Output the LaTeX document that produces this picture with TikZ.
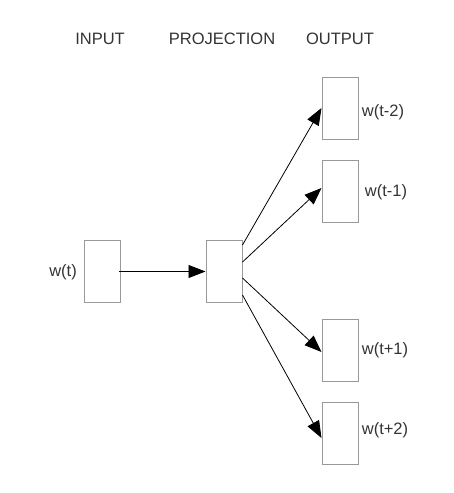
\documentclass[tikz,border=0pt]{standalone}
\usepackage{fontspec}
\setmainfont{Liberation Sans}
\usetikzlibrary{arrows.meta}
\definecolor{txt}{HTML}{333333}
\definecolor{boxc}{HTML}{999999}
\begin{document}
\begin{tikzpicture}[x=1pt,y=-1pt,
  unit/.style={draw=boxc,line width=1pt,fill=white,minimum width=36pt,minimum height=62pt,inner sep=0pt},
  lbl/.style={text=txt,font=\fontsize{16.5}{18}\selectfont,inner sep=0pt},
  conn/.style={black,line width=0.8pt,-{Triangle[length=17pt,width=13pt]}}]
\useasboundingbox (0,0) rectangle (453,493);
\node[lbl] (hin) at (100,39) {INPUT};
\node[lbl] (hpr) at (222,39) {PROJECTION};
\node[lbl] (hout) at (340,39) {OUTPUT};
\node[unit] (in) at (102.5,271.5) {};
\node[unit] (pr) at (224,271.5) {};
\node[unit] (o1) at (340,108) {};
\node[unit] (o2) at (340,191) {};
\node[unit] (o3) at (340,350) {};
\node[unit] (o4) at (340,433.5) {};
\node[lbl] (lin) at (63,272) {w(t)};
\node[lbl] (l1) at (383,112) {w(t-2)};
\node[lbl] (l2) at (386,192) {w(t-1)};
\node[lbl] (l3) at (385,350) {w(t+1)};
\node[lbl] (l4) at (385,430) {w(t+2)};
\draw[conn] ([xshift=-2pt]in.east) -- (pr.west);
\draw[conn] ([yshift=26.5pt]pr.east) -- (o1.west);
\draw[conn] ([yshift=9.5pt]pr.east) -- ([yshift=3pt]o2.west);
\draw[conn] ([yshift=-6.5pt]pr.east) -- ([yshift=-2pt]o3.west);
\draw[conn] ([yshift=-23.5pt]pr.east) -- ([yshift=-4.5pt]o4.west);
\end{tikzpicture}
\end{document}
